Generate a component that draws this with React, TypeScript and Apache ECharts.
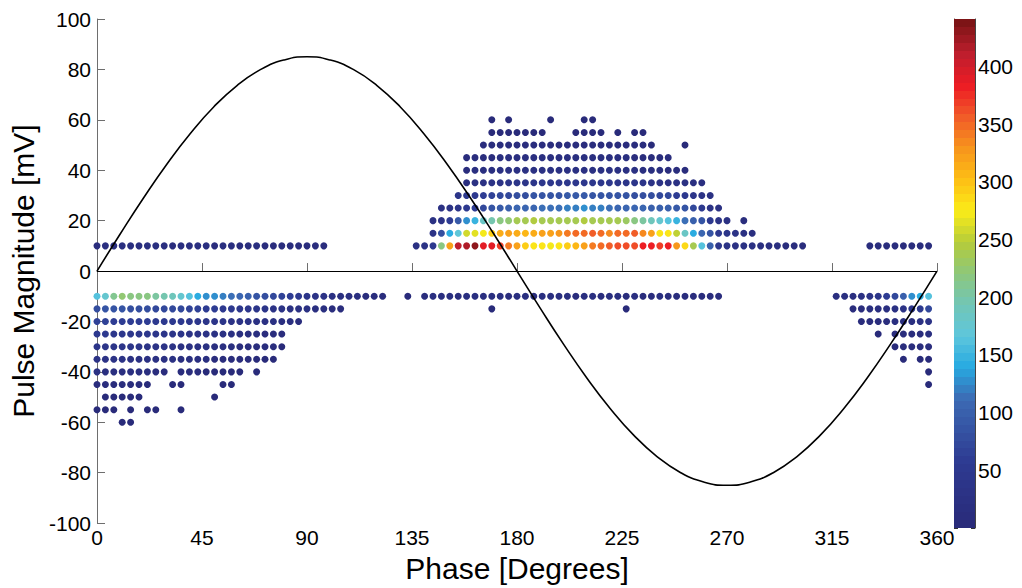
import React, { useEffect, useRef } from 'react';
import * as echarts from 'echarts';

// Phase bin width (degrees) of the phase-resolved pattern
const PHASE_BIN = 3.6;

// Colour scale range (pulse counts)
const VMIN = 1;
const VMAX = 441;
const COLORBAR_TICKS_INTERVAL = 50;

// ---- left cluster (phase ~0-125 deg) ----  counts per bin, starting bin given in ROWS
const P10_L = [14, 16, 15, 17, 16, 15, 18, 16, 15, 14, 16, 15, 17, 15, 14, 16, 15, 14, 13, 15, 14, 13, 12, 14, 12, 11, 10, 9];
const M10_L = [165, 178, 212, 225, 220, 220, 215, 205, 198, 190, 178, 162, 145, 130, 125, 118, 112, 105, 98, 90, 82, 75, 65, 58, 50, 42, 35, 30, 25, 20, 18, 15, 12, 10, 8];
const M15_L = [80, 85, 85, 85, 82, 80, 78, 76, 75, 72, 70, 68, 65, 62, 60, 55, 50, 48, 45, 40, 38, 35, 30, 28, 25, 22, 20, 15, 12, 10];
const M20_L = [65, 65, 62, 62, 60, 60, 58, 55, 55, 52, 50, 48, 45, 42, 40, 38, 35, 32, 30, 28, 25, 22, 20, 15, 12];
const M25_L = [50, 50, 48, 48, 46, 45, 44, 42, 40, 38, 36, 34, 32, 30, 28, 25, 22, 20, 18, 15, 12, 10, 8];
const M30_L = [42, 42, 40, 40, 38, 36, 35, 34, 32, 30, 28, 26, 24, 22, 20, 18, 16, 14, 12, 10, 9, 8, 6];
const M35_L = [32, 32, 30, 30, 28, 27, 26, 25, 24, 22, 20, 18, 16, 15, 14, 12, 10, 9, 8, 7, 6, 5];
const M40_L = [22, 20, 20, 18, 18, 16, 15, 14, 12, 0, 10, 9, 8, 7, 6, 5, 4, 4, 0, 2];
const M45_L = [12, 12, 10, 10, 9, 8, 7, 0, 0, 4, 4, 0, 0, 0, 0, 3, 3];
const M50_L = [6, 6, 5, 5, 4, 0, 0, 0, 0, 0, 0, 0, 0, 2];
const M55_L = [4, 4, 3, 0, 3, 0, 2, 2, 0, 0, 1];
const M60_L = [2, 2];

// ---- middle cluster (phase ~133-305 deg) ----
const P60_M = [3, 0, 3, 0, 0, 0, 0, 3, 0, 0, 0, 3, 3];
const P55_M = [5, 5, 6, 6, 5, 5, 4, 0, 0, 0, 5, 5, 5, 4, 0, 4, 0, 3, 3];
const P50_M = [8, 9, 10, 10, 11, 11, 12, 12, 12, 12, 12, 12, 12, 11, 11, 10, 10, 9, 9, 8, 7, 0, 0, 0, 3];
const P45_M = [10, 12, 13, 14, 15, 16, 17, 18, 18, 18, 19, 19, 19, 18, 18, 18, 17, 17, 16, 15, 14, 13, 12, 10, 8];
const P40_M = [14, 16, 18, 20, 22, 23, 24, 25, 26, 26, 27, 27, 27, 27, 26, 26, 25, 25, 24, 23, 22, 20, 18, 16, 14, 12, 10];
const P35_M = [20, 25, 28, 32, 35, 38, 40, 42, 42, 44, 45, 45, 46, 46, 45, 45, 44, 44, 42, 40, 38, 36, 34, 30, 28, 25, 22, 18, 15];
const P30_M = [40, 50, 55, 62, 68, 72, 76, 80, 82, 85, 86, 88, 90, 92, 92, 92, 90, 90, 88, 86, 85, 82, 80, 78, 75, 70, 62, 52, 42, 32, 25];
const P25_M = [25, 30, 40, 50, 60, 75, 85, 95, 100, 105, 108, 110, 112, 112, 115, 118, 122, 125, 120, 118, 112, 110, 108, 105, 105, 102, 100, 98, 95, 85, 70, 55, 35, 25];
const P20_M = [25, 35, 60, 95, 130, 150, 180, 200, 215, 225, 235, 240, 245, 240, 238, 240, 238, 240, 245, 240, 238, 240, 235, 230, 218, 205, 190, 178, 165, 148, 115, 100, 85, 50, 35, 25, 0, 10];
const P15_M = [35, 78, 145, 170, 262, 268, 274, 295, 312, 318, 312, 308, 312, 318, 322, 330, 340, 345, 350, 352, 348, 331, 350, 350, 355, 331, 320, 276, 276, 255, 185, 145, 108, 85, 50, 40, 30, 22, 15];
const P10_M = [25, 30, 55, 215, 320, 410, 420, 432, 392, 390, 372, 340, 318, 290, 282, 278, 275, 280, 290, 305, 320, 340, 350, 358, 365, 362, 365, 385, 385, 368, 382, 330, 285, 240, 165, 100, 45, 32, 28, 25, 22, 20, 18, 16, 14, 12, 10];
const M10_M = [3, 0, 14, 15, 16, 15, 14, 16, 15, 17, 16, 15, 14, 16, 15, 14, 16, 15, 17, 15, 14, 16, 15, 14, 15, 16, 14, 15, 13, 14, 15, 13, 12, 13, 11, 10, 9, 8];
const M15_M = [2, 0, 0, 0, 0, 0, 0, 0, 0, 0, 0, 0, 0, 0, 0, 0, 2];

// ---- right cluster (phase ~315-360 deg) ----
const P10_R = [10, 11, 12, 12, 11, 12, 11, 10];
const M10_R = [15, 18, 20, 25, 30, 40, 60, 75, 100, 125, 140, 160];
const M15_R = [12, 14, 16, 18, 20, 25, 30, 38, 50, 70];
const M20_R = [10, 10, 12, 14, 15, 18, 20, 25, 30];
const M25_R = [3, 0, 8, 10, 12, 14, 16];
const M30_R = [6, 8, 10, 12, 14];
const M35_R = [3, 0, 4, 5];
const M40_R = [3];
const M45_R = [2];

// [magnitude mV, first phase bin, counts]
const ROWS: [number, number, number[]][] = [
  [10, 0, P10_L], [-10, 0, M10_L], [-15, 0, M15_L], [-20, 0, M20_L], [-25, 0, M25_L],
  [-30, 0, M30_L], [-35, 0, M35_L], [-40, 0, M40_L], [-45, 0, M45_L], [-50, 1, M50_L],
  [-55, 0, M55_L], [-60, 3, M60_L],
  [60, 47, P60_M], [55, 47, P55_M], [50, 46, P50_M], [45, 44, P45_M], [40, 44, P40_M],
  [35, 44, P35_M], [30, 43, P30_M], [25, 41, P25_M], [20, 40, P20_M], [15, 40, P15_M],
  [10, 38, P10_M], [-10, 37, M10_M], [-15, 47, M15_M],
  [10, 92, P10_R], [-10, 88, M10_R], [-15, 90, M15_R], [-20, 91, M20_R], [-25, 93, M25_R],
  [-30, 95, M30_R], [-35, 96, M35_R], [-40, 99, M40_R], [-45, 99, M45_R],
];

// Reference voltage curve (phase deg, mV)
const SINE_PHASE = [0, 10, 20, 30, 40, 50, 60, 70, 80, 90, 100, 110, 120, 130, 140, 150, 160, 170, 180, 190, 200, 210, 220, 230, 240, 250, 260, 270, 280, 290, 300, 310, 320, 330, 340, 350, 360];
const SINE_MV = [0, 14.8, 29.1, 42.5, 54.6, 65.1, 73.6, 79.9, 83.7, 85, 83.7, 79.9, 73.6, 65.1, 54.6, 42.5, 29.1, 14.8, 0, -14.8, -29.1, -42.5, -54.6, -65.1, -73.6, -79.9, -83.7, -85, -83.7, -79.9, -73.6, -65.1, -54.6, -42.5, -29.1, -14.8, 0];

// Jet-like colour map (as printed)
const CMAP_STOPS = [0, 0.125, 0.25, 0.3125, 0.375, 0.4375, 0.5, 0.5625, 0.625, 0.6875, 0.75, 0.8125, 0.875, 0.9375, 1];
const CMAP_COLORS = ['#292B7A', '#2E3B92', '#3C6BB4', '#27AAE1', '#5EC6DC', '#72C6B6', '#8DC77B', '#B5CC3A', '#FBEC18', '#FDBE15', '#F7941D', '#F15A29', '#ED1C24', '#BE1E2D', '#7D1416'];
const LEVELS = 64;

function hexToRgb(h: string): number[] {
  const n = parseInt(h.slice(1), 16);
  return [(n >> 16) & 255, (n >> 8) & 255, n & 255];
}

function cmap(t: number): string {
  let i = 0;
  while (i < CMAP_STOPS.length - 2 && t > CMAP_STOPS[i + 1]) i++;
  const a = hexToRgb(CMAP_COLORS[i]);
  const b = hexToRgb(CMAP_COLORS[i + 1]);
  const f = Math.max(0, Math.min(1, (t - CMAP_STOPS[i]) / (CMAP_STOPS[i + 1] - CMAP_STOPS[i])));
  const c = a.map((v, k) => Math.round(v + (b[k] - v) * f));
  return `rgb(${c[0]},${c[1]},${c[2]})`;
}

function colorFor(v: number): string {
  const level = Math.max(0, Math.min(LEVELS - 1, Math.floor(((v - VMIN) / (VMAX - VMIN)) * LEVELS)));
  return cmap(level / (LEVELS - 1));
}

export default function App() {
  const ref = useRef<HTMLDivElement>(null);
  useEffect(() => {
    if (!ref.current) return;
    const chart = echarts.init(ref.current, null, { renderer: 'svg' });
    const points: any[] = [];
    ROWS.forEach(([mag, start, counts]) => {
      counts.forEach((c, i) => {
        if (c > 0) {
          points.push({ value: [(start + i) * PHASE_BIN, mag, c], itemStyle: { color: colorFor(c), opacity: 1 } });
        }
      });
    });
    const stops: any[] = [];
    for (let i = 0; i < LEVELS; i++) {
      const col = cmap(i / (LEVELS - 1));
      stops.push({ offset: i / LEVELS, color: col }, { offset: (i + 1) / LEVELS, color: col });
    }
    const font = 'Liberation Sans, Arial, Helvetica, sans-serif';
    const axisGray = '#6e6e6e';
    chart.setOption({
      animation: false,
      backgroundColor: '#ffffff',
      grid: [
        { left: 97, top: 19, width: 840, height: 508 },
        { left: 954, top: 19, width: 21, height: 509 },
      ],
      xAxis: [
        {
          gridIndex: 0, type: 'value', min: 0, max: 360, interval: 45,
          name: 'Phase [Degrees]', nameLocation: 'middle', nameGap: 24,
          nameTextStyle: { fontSize: 30, color: '#000', fontFamily: font },
          axisLine: { lineStyle: { color: axisGray, width: 1 } },
          axisTick: { inside: true, length: 8, lineStyle: { color: axisGray } },
          axisLabel: { fontSize: 21, color: '#000', fontFamily: font, margin: 4, showMaxLabel: true, showMinLabel: true },
          splitLine: { show: false },
        },
        { gridIndex: 1, type: 'category', data: ['cb'], show: false },
      ],
      yAxis: [
        {
          gridIndex: 0, type: 'value', min: -100, max: 100, interval: 20,
          name: 'Pulse Magnitude [mV]', nameLocation: 'middle', nameGap: 55, nameRotate: 90,
          nameTextStyle: { fontSize: 30, color: '#000', fontFamily: font },
          axisLine: { lineStyle: { color: axisGray, width: 1 } },
          axisTick: { inside: true, length: 8, lineStyle: { color: axisGray } },
          axisLabel: { fontSize: 21, color: '#000', fontFamily: font, margin: 6 },
          splitLine: { show: false },
        },
        {
          gridIndex: 1, type: 'value', min: 0, max: VMAX, interval: COLORBAR_TICKS_INTERVAL, position: 'left',
          axisLine: { show: true, lineStyle: { color: '#444', width: 1 } },
          axisTick: { show: true, inside: true, length: 4, lineStyle: { color: '#333' } },
          axisLabel: { show: false }, splitLine: { show: false },
        },
        {
          gridIndex: 1, type: 'value', min: 0, max: VMAX, interval: COLORBAR_TICKS_INTERVAL, position: 'right',
          axisLine: { show: true, lineStyle: { color: '#444', width: 1 } },
          axisTick: { show: true, inside: true, length: 4, lineStyle: { color: '#333' } },
          axisLabel: {
            fontSize: 21, color: '#000', fontFamily: font, margin: 3,
            formatter: (v: number) => (v > 0 && v % COLORBAR_TICKS_INTERVAL === 0 ? String(v) : ''),
          },
          splitLine: { show: false },
        },
      ],
      series: [
        {
          type: 'scatter', xAxisIndex: 0, yAxisIndex: 0, data: points, symbolSize: 7, z: 2,
          itemStyle: { opacity: 1 },
        },
        {
          type: 'line', xAxisIndex: 0, yAxisIndex: 0,
          data: SINE_PHASE.map((p, i) => [p, SINE_MV[i]]),
          smooth: true, showSymbol: false, symbol: 'none',
          lineStyle: { color: '#000', width: 1.6 }, z: 3,
          markLine: {
            silent: true, symbol: 'none', label: { show: false },
            lineStyle: { color: '#000', width: 1, type: 'solid' },
            data: [{ yAxis: 0 }],
          },
        },
        {
          type: 'bar', xAxisIndex: 1, yAxisIndex: 1, data: [VMAX], barWidth: '100%',
          itemStyle: { color: new echarts.graphic.LinearGradient(0, 1, 0, 0, stops) },
          z: 1,
        },
      ],
    });
    return () => chart.dispose();
  }, []);
  return <div ref={ref} style={{ position: 'fixed', left: 0, top: 0, width: 1022, height: 588 }} />;
}
